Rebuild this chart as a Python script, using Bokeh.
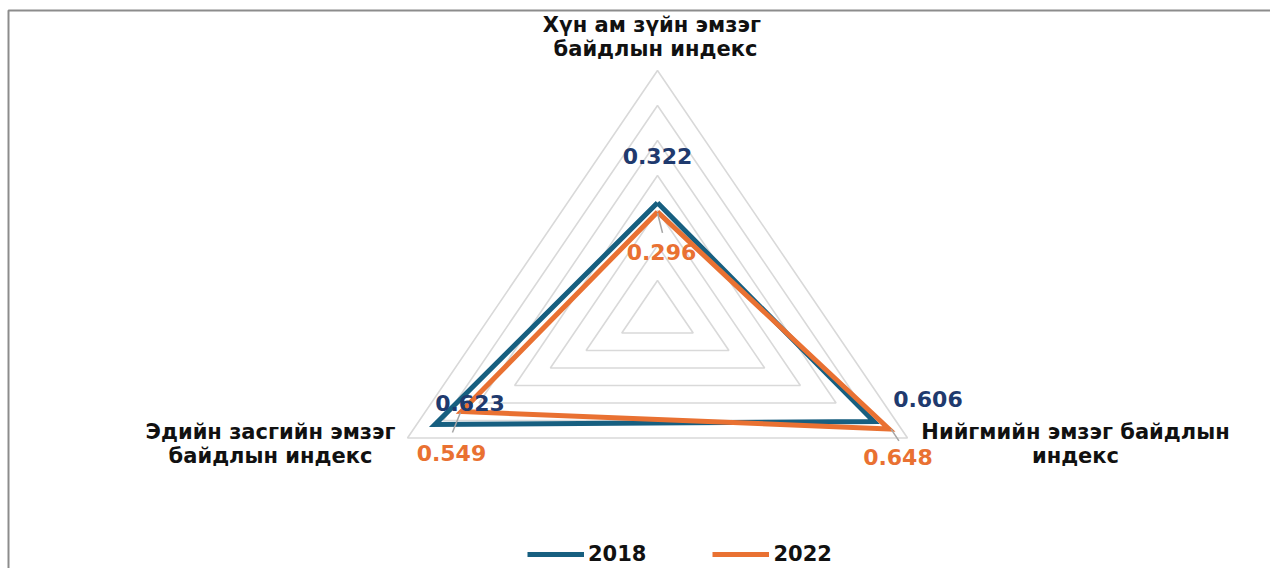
import math
from bokeh.plotting import figure
from bokeh.models import ColumnDataSource, Legend, LegendItem
from bokeh.core.properties import value
from bokeh.embed import file_html
from bokeh.resources import INLINE

# ---- data ----
categories = ["Хүн ам  зүйн эмзэг\nбайдлын индекс",
              "Нийгмийн эмзэг байдлын\nиндекс",
              "Эдийн засгийн эмзэг\nбайдлын индекс"]
series_names = ["2018", "2022"]
values_2018 = [0.322, 0.606, 0.623]
values_2022 = [0.296, 0.648, 0.549]
label_2018 = ["0.322", "0.606", "0.623"]
label_2022 = ["0.296", "0.648", "0.549"]
grid_levels = [0.1, 0.2, 0.3, 0.4, 0.5, 0.6, 0.7]

# ---- style / layout ----
W, H = 1270, 568
CX, CY = 657, 315          # centre of radar in frame pixels (from left, from top)
R_MAX = 0.7
SX = 250 / (R_MAX * math.sin(math.radians(60)))   # px per unit, x
SY = 245 / R_MAX                                   # px per unit, y
BLUE = "#175F80"
ORANGE = "#E97132"
NAVY = "#1F3A6E"
GRID = "#D9D9D9"
FONT = "DejaVu Sans"

angles = [90, -30, 210]


def pt(r, a):
    return r * math.cos(math.radians(a)), r * math.sin(math.radians(a))


x0, x1 = -CX / SX, (W - CX) / SX
y0, y1 = -(H - CY) / SY, CY / SY
p = figure(width=W, height=H, output_backend="svg", toolbar_location=None,
           x_range=(x0, x1), y_range=(y0, y1),
           min_border=0, outline_line_color=None)
p.axis.visible = False
p.grid.visible = False
p.background_fill_color = "white"
p.border_fill_color = "white"

# chart border (top and left edges visible)
bx = x0 + 8 / SX
by = y1 - 10 / SY
p.line([bx, bx, x1 + 1], [y0 - 1, by, by], line_color="#8C8C8C", line_width=2)

# grid triangles
gx, gy = [], []
for lv in grid_levels:
    pts = [pt(lv, a) for a in angles]
    gx.append([q[0] for q in pts] + [pts[0][0]])
    gy.append([q[1] for q in pts] + [pts[0][1]])
p.multi_line(gx, gy, line_color=GRID, line_width=1.6)

# series
def closed(vals):
    pts = [pt(v, a) for v, a in zip(vals, angles)]
    return [q[0] for q in pts] + [pts[0][0]], [q[1] for q in pts] + [pts[0][1]]

x18, y18 = closed(values_2018)
x22, y22 = closed(values_2022)
r18 = p.line(x18, y18, line_color=BLUE, line_width=5, line_join="miter")
r22 = p.line(x22, y22, line_color=ORANGE, line_width=5, line_join="miter")

# leader lines (2022 labels)
lead_start = [(0, 1), (2, 0), (-1, 1)]
lead_end = [(5, 21), (10, 12), (-9, 21)]
lx0, ly0, lx1, ly1 = [], [], [], []
for v, a, s, e in zip(values_2022, angles, lead_start, lead_end):
    x, y = pt(v, a)
    lx0.append(x + s[0] / SX); ly0.append(y - s[1] / SY)
    lx1.append(x + e[0] / SX); ly1.append(y - e[1] / SY)
p.segment(lx0, ly0, lx1, ly1, line_color="#A6A6A6", line_width=1.5)

# data labels
off18 = [(0, -47), (54, -23), (35, -22)]
off22 = [(4, 40), (9, 28), (-10, 41)]
for vals, labs, offs, col in [(values_2018, label_2018, off18, NAVY),
                              (values_2022, label_2022, off22, ORANGE)]:
    pts = [pt(v, a) for v, a in zip(vals, angles)]
    src = ColumnDataSource(dict(x=[q[0] for q in pts], y=[q[1] for q in pts], t=labs,
                                xo=[o[0] for o in offs], yo=[o[1] for o in offs]))
    p.text(x="x", y="y", text="t", x_offset="xo", y_offset="yo", source=src,
           text_font=value(FONT), text_font_style="bold", text_font_size="22px",
           text_color=col, text_align="center", text_baseline="middle")

# category labels
cat_off = [(-2, -34), (168, 6), (-137, 6)]
cpts = [pt(R_MAX, a) for a in angles]
csrc = ColumnDataSource(dict(x=[q[0] for q in cpts], y=[q[1] for q in cpts], t=categories,
                             xo=[o[0] for o in cat_off], yo=[o[1] for o in cat_off]))
p.text(x="x", y="y", text="t", x_offset="xo", y_offset="yo", source=csrc,
       text_font=value(FONT), text_font_style="bold", text_font_size="21px",
       text_color="#111111", text_align="center", text_baseline="middle",
       text_line_height=1.0)

legend = Legend(items=[LegendItem(label=series_names[0], renderers=[r18]),
                       LegendItem(label=series_names[1], renderers=[r22])],
                orientation="horizontal", location=(527, 2),
                glyph_width=57, glyph_height=20, label_height=20, label_standoff=4,
                spacing=66, padding=0, margin=0, border_line_color=None,
                background_fill_alpha=0,
                label_text_font=FONT, label_text_font_style="bold",
                label_text_font_size="21px", label_text_color="#111111")
p.add_layout(legend)

open("out.html", "w").write(file_html(p, INLINE))
